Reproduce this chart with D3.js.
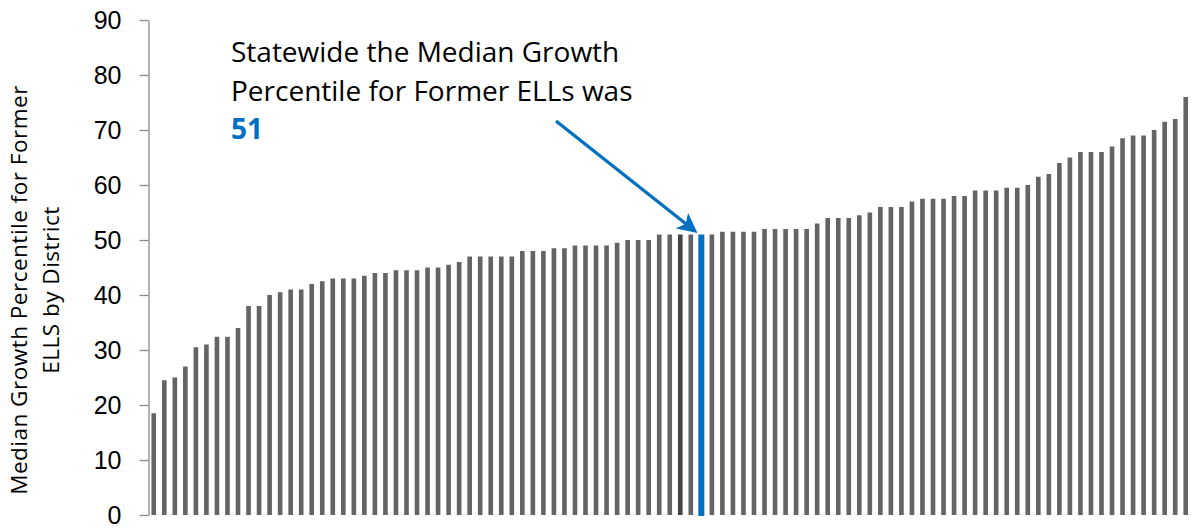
<!DOCTYPE html>
<html>
<head>
<meta charset="utf-8">
<script src="https://cdn.jsdelivr.net/npm/d3@7"></script>
<style>
  body { margin: 0; background: #fff; }
  svg { display: block; font-family: 'Open Sans', sans-serif; }
  .tick text { font-size: 25px; fill: #000; }
  .axis path, .axis line { stroke: #898989; stroke-width: 1.3; }
</style>
</head>
<body>
<svg width="1196" height="529"></svg>
<script>
// median growth percentile for former ELLs, one value per district, sorted
const values = [
  18.5, 24.5, 25, 27, 30.5, 31, 32.4, 32.4, 34, 38,
  38, 40, 40.5, 41, 41, 42, 42.5, 43, 43, 43,
  43.5, 44, 44, 44.5, 44.5, 44.5, 45, 45, 45.5, 46,
  47, 47, 47, 47, 47, 48, 48, 48, 48.5, 48.5,
  49, 49, 49, 49, 49.5, 50, 50, 50, 51, 51,
  51, 51, 51, 51, 51.5, 51.5, 51.5, 51.5, 52, 52,
  52, 52, 52, 53, 54, 54, 54, 54.5, 55, 56,
  56, 56, 57, 57.5, 57.5, 57.5, 58, 58, 59, 59,
  59, 59.5, 59.5, 60, 61.5, 62, 64, 65, 66, 66,
  66, 67, 68.5, 69, 69, 70, 71.5, 72, 76
];
const districts = values.map((d, i) => 'District ' + (i + 1));
const yTicks = [0, 10, 20, 30, 40, 50, 60, 70, 80, 90];
const statewideIndex = 52;
const statewideValue = 51;
const darkIndex = 50;
const noteLines = ['Statewide the Median Growth', 'Percentile for Former ELLs was'];
const yTitle = ['Median Growth Percentile for Former', 'ELLS by District'];

const svg = d3.select('svg');
const plotLeft = 148.5, plotRight = 1191, plotTop = 20, plotBottom = 515;

const x = d3.scaleBand().domain(districts).range([plotLeft, plotRight]);
const y = d3.scaleLinear().domain([0, 90]).range([plotBottom, plotTop]);

const barW = x.step() * 0.44;

svg.append('g').selectAll('rect').data(values)
  .enter().append('rect')
    .attr('x', (d, i) => x(districts[i]) + x.bandwidth() / 2 - (i === statewideIndex ? 3 : barW / 2))
    .attr('width', (d, i) => i === statewideIndex ? 6 : barW)
    .attr('y', d => y(d))
    .attr('height', (d, i) => plotBottom - y(d) + (i === statewideIndex ? 1 : 0))
    .attr('fill', (d, i) => i === statewideIndex ? '#0070C0' : (i === darkIndex ? '#454545' : '#646464'));

svg.append('g')
  .attr('class', 'axis')
  .attr('transform', `translate(${plotLeft},0)`)
  .call(d3.axisLeft(y).tickValues(yTicks).tickSize(9).tickPadding(18).tickSizeOuter(0));

const title = svg.append('text')
  .attr('transform', 'translate(36,290) rotate(-90)')
  .attr('text-anchor', 'middle')
  .style('font-size', '22.5px')
  .style('letter-spacing', '0.5px');
title.selectAll('tspan').data(yTitle)
  .enter().append('tspan')
    .attr('x', 0)
    .attr('dy', (d, i) => i === 0 ? -9 : 32)
    .text(d => d);

const note = svg.append('text')
  .attr('x', 231)
  .attr('y', 62)
  .style('font-size', '28px');
note.selectAll('tspan').data(noteLines)
  .enter().append('tspan')
    .attr('x', 231)
    .attr('dy', (d, i) => i === 0 ? 0 : 39)
    .text(d => d);
svg.append('text')
  .attr('x', 231)
  .attr('y', 139)
  .style('font-size', '28px')
  .style('font-weight', 'bold')
  .attr('fill', '#0070C0')
  .text(statewideValue);

// arrow pointing at the statewide bar
svg.append('defs').append('marker')
  .attr('id', 'head')
  .attr('viewBox', '0 0 10 10')
  .attr('refX', 8).attr('refY', 5)
  .attr('markerWidth', 6).attr('markerHeight', 6)
  .attr('orient', 'auto')
  .append('path').attr('d', 'M0,0 L10,5 L0,10 L2.5,5 Z').attr('fill', '#0070C0');

const tipX = x(districts[statewideIndex]) + x.bandwidth() / 2 - 7;
const tipY = y(statewideValue) - 4;
svg.append('line')
  .attr('x1', 556).attr('y1', 121)
  .attr('x2', tipX).attr('y2', tipY)
  .attr('stroke', '#0070C0')
  .attr('stroke-width', 3.3)
  .attr('marker-end', 'url(#head)');
</script>
</body>
</html>
